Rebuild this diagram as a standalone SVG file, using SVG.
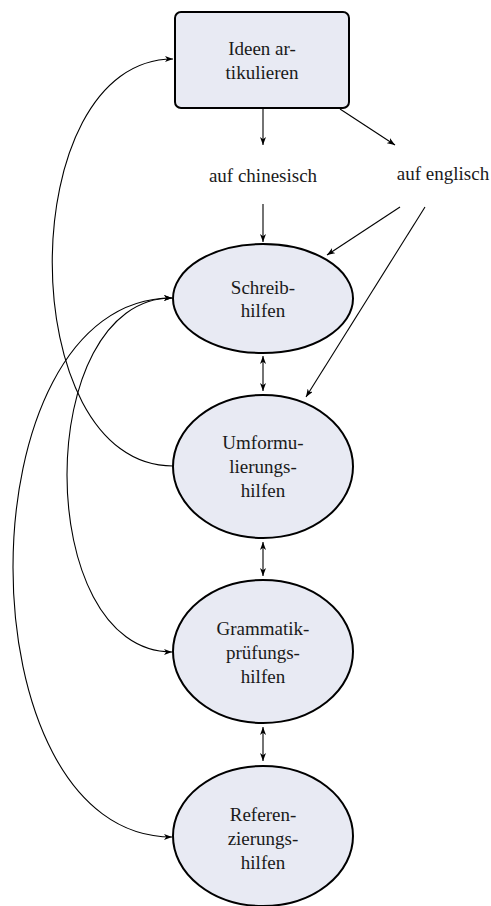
<svg xmlns="http://www.w3.org/2000/svg" width="491" height="906" viewBox="0 0 491 906">
<style>
.node{fill:#e8eaf3;stroke:#000;stroke-width:2}
.t{font-family:"Liberation Serif",serif;font-size:19px;fill:#1a1a1a;text-anchor:middle}
.c{fill:none;stroke:#000;stroke-width:1.1}
</style>
<defs>
<marker id="ah" viewBox="0 0 8 6" refX="8" refY="3" markerWidth="8" markerHeight="6" markerUnits="userSpaceOnUse" orient="auto-start-reverse">
<path d="M0,0 L8,3 L0,6 L2.2,3 z" fill="#000"/>
</marker>
</defs>
<rect width="491" height="906" fill="#fff"/>
<g id="connectors">
<path class="c" d="M263,108 L263,145" marker-end="url(#ah)"/>
<path class="c" d="M340,109 L395,145" marker-end="url(#ah)"/>
<path class="c" d="M263,204 L263,242" marker-end="url(#ah)"/>
<path class="c" d="M400,207 L327,255" marker-end="url(#ah)"/>
<path class="c" d="M425,207 L306,397" marker-end="url(#ah)"/>
<path class="c" d="M263,356 L263,391" marker-start="url(#ah)" marker-end="url(#ah)"/>
<path class="c" d="M263,542 L263,576" marker-start="url(#ah)" marker-end="url(#ah)"/>
<path class="c" d="M263,727 L263,761" marker-start="url(#ah)" marker-end="url(#ah)"/>
<path class="c" d="M173,466 C12,466 12,59 173,59" marker-end="url(#ah)"/>
<path class="c" d="M172,298 C32,298 32,652 172,652" marker-start="url(#ah)" marker-end="url(#ah)"/>
<path class="c" d="M172,298 C-40,298 -40,837 172,837" marker-start="url(#ah)" marker-end="url(#ah)"/>
</g>
<g id="ideen">
<rect class="node" x="175" y="12" width="174" height="96" rx="6"/>
<text class="t" x="262" y="55">Ideen ar-</text>
<text class="t" x="262" y="79">tikulieren</text>
</g>
<g id="chinesisch">
<text class="t" x="263" y="182">auf chinesisch</text>
</g>
<g id="englisch">
<text class="t" x="443" y="180">auf englisch</text>
</g>
<g id="schreib">
<ellipse class="node" cx="263" cy="298.5" rx="90" ry="54.5"/>
<text class="t" x="263" y="294">Schreib-</text>
<text class="t" x="263" y="317">hilfen</text>
</g>
<g id="umform">
<ellipse class="node" cx="263" cy="466.5" rx="90" ry="71.5"/>
<text class="t" x="263" y="449">Umformu-</text>
<text class="t" x="263" y="473">lierungs-</text>
<text class="t" x="263" y="497">hilfen</text>
</g>
<g id="grammatik">
<ellipse class="node" cx="263" cy="651.5" rx="90" ry="71.5"/>
<text class="t" x="263" y="635">Grammatik-</text>
<text class="t" x="263" y="659">prüfungs-</text>
<text class="t" x="263" y="683">hilfen</text>
</g>
<g id="referenz">
<ellipse class="node" cx="263" cy="836" rx="90" ry="70"/>
<text class="t" x="263" y="821">Referen-</text>
<text class="t" x="263" y="845">zierungs-</text>
<text class="t" x="263" y="869">hilfen</text>
</g>
</svg>
